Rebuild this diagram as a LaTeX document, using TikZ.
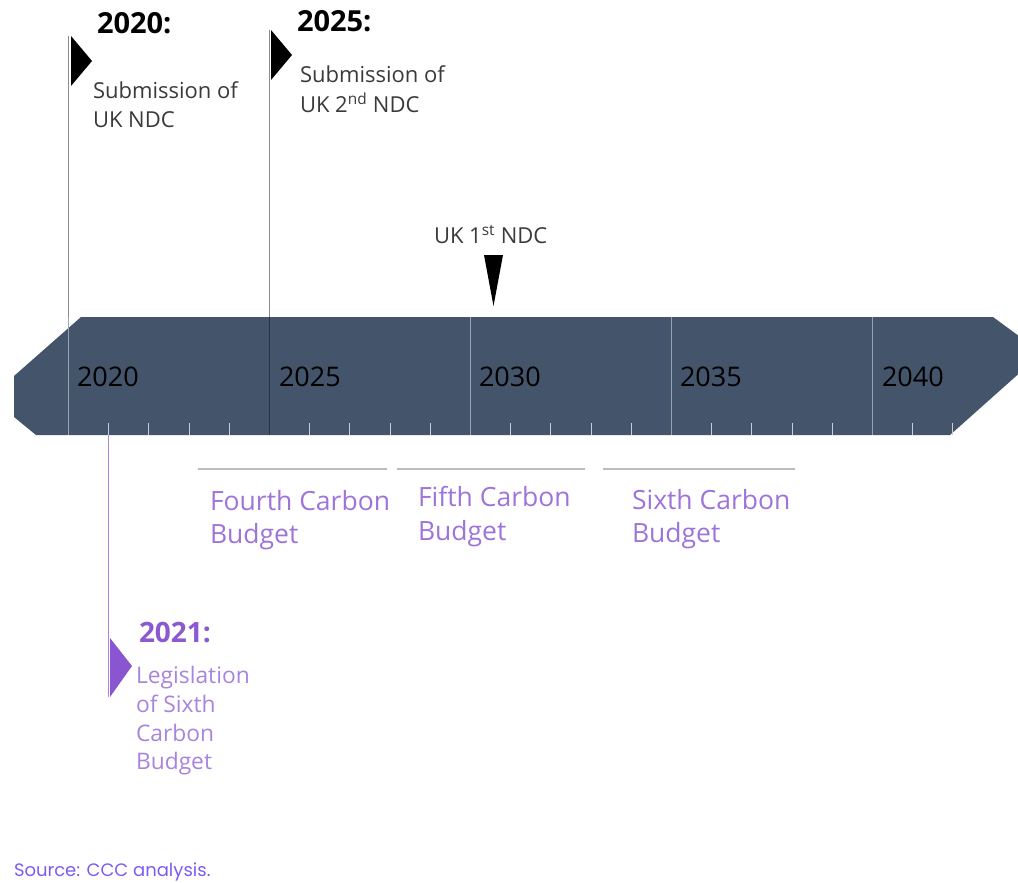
\documentclass[tikz,border=0pt]{standalone}
\usepackage{fontspec}
\setmainfont{Open Sans}
\newfontfamily\srcfont{Poppins}
\definecolor{bandcol}{HTML}{44546A}
\definecolor{txtgray}{HTML}{3A3A3A}
\definecolor{budgetpurple}{HTML}{9E74DA}
\definecolor{legpurple}{HTML}{A884DE}
\definecolor{boldpurple}{HTML}{8C5ACF}
\definecolor{flagpurple}{HTML}{8A55D0}
\definecolor{srcblue}{HTML}{7B5CF2}
\definecolor{linegray}{HTML}{8C8C8C}
\definecolor{budgetgray}{HTML}{BDBDBD}
\definecolor{inband}{HTML}{9AA3B0}
\definecolor{tickcol}{HTML}{C9CED6}
\begin{document}
\begin{tikzpicture}[x=1pt,y=-1pt,
  lbl/.style={anchor=base west,inner sep=0pt,outer sep=0pt},
  yearbold/.style={lbl,font=\fontsize{29}{34}\selectfont\bfseries},
  subtxt/.style={lbl,text=txtgray,font=\fontsize{22}{29}\selectfont},
  bandyear/.style={lbl,text=black,font=\fontsize{27}{32}\selectfont},
  budgettxt/.style={lbl,text=budgetpurple,font=\fontsize{26.5}{33}\selectfont},
  legtxt/.style={lbl,text=legpurple,font=\fontsize{22.8}{29}\selectfont},
  flagline/.style={draw=linegray,line width=1.2pt},
  gridline/.style={draw=inband,line width=1pt},
  ticker/.style={draw=tickcol,line width=0.9pt},
  budgetline/.style={draw=budgetgray,line width=2pt},
  flagtri/.style={fill=black},
]
\useasboundingbox (0,0) rectangle (1018,883);
\clip (0,0) rectangle (1018,883);

% band
\fill[bandcol] (81,317) -- (993,317) -- (1042,353) -- (950,435) -- (36,435) -- (14,417) -- (14,376) -- cycle;

% year coordinates
\foreach \yr/\xx in {2020/68.5,2025/269.5,2030/470.5,2035/671.5,2040/872.5}{
  \coordinate (g\yr top) at (\xx,317);
  \coordinate (g\yr bot) at (\xx,435);
}
% grid lines within band
\draw[gridline] (g2020top) -- (g2020bot);
\draw[draw=bandcol!60!black,line width=1pt] (g2025top) -- (g2025bot);
\draw[gridline] (g2030top) -- (g2030bot);
\draw[gridline] (g2035top) -- (g2035bot);
\draw[gridline] (g2040top) -- (g2040bot);

% ticks
\foreach \k in {1,2,3,4,6,7,8,9,11,12,13,14,16,17,18,19,21,22}{
  \draw[ticker] ({68.5+\k*40.2},423) -- ({68.5+\k*40.2},435);
}

% flag lines above band
\coordinate (f2020top) at (68.5,36);
\coordinate (f2025top) at (269.5,30);
\draw[flagline] (f2020top) -- (g2020top);
\draw[flagline] (f2025top) -- (g2025top);

% flags
\fill[flagtri] (71,36) -- (92,61) -- (71,86) -- cycle;
\fill[flagtri] (271,30) -- (292,55) -- (271,80) -- cycle;

% 2020 label
\node[yearbold] (h2020) at (97,34) {2020:};
\node[subtxt] (s2020a) at (93,99) {Submission of};
\node[subtxt] (s2020b) at (93,128) {UK NDC};

% 2025 label
\node[yearbold] (h2025) at (297,32) {2025:};
\node[subtxt] (s2025a) at (300,83) {Submission of};
\node[subtxt] (s2025b) at (300,112) {UK 2\textsuperscript{nd} NDC};

% UK 1st NDC
\node[subtxt] (ndc1) at (434,243) {UK 1\textsuperscript{st} NDC};
\fill[flagtri] (484,255) -- (503,255) -- (493.5,306) -- cycle;

% band years
\node[bandyear] (y2020) at (77,386) {2020};
\node[bandyear] (y2025) at (279,386) {2025};
\node[bandyear] (y2030) at (479,386) {2030};
\node[bandyear] (y2035) at (680,386) {2035};
\node[bandyear] (y2040) at (882,386) {2040};

% budget lines
\coordinate (b4s) at (198,469); \coordinate (b4e) at (387,469);
\coordinate (b5s) at (397,469); \coordinate (b5e) at (585,469);
\coordinate (b6s) at (603,469); \coordinate (b6e) at (795,469);
\draw[budgetline] (b4s) -- (b4e);
\draw[budgetline] (b5s) -- (b5e);
\draw[budgetline] (b6s) -- (b6e);

% budget texts
\node[budgettxt] (cb4a) at (210,510) {Fourth Carbon};
\node[budgettxt] (cb4b) at (210,543) {Budget};
\node[budgettxt] (cb5a) at (418,506) {Fifth Carbon};
\node[budgettxt] (cb5b) at (418,540) {Budget};
\node[budgettxt] (cb6a) at (632,509) {Sixth Carbon};
\node[budgettxt] (cb6b) at (632,542) {Budget};

% 2021 line and flag
\coordinate (l2021top) at (108.7,423);
\coordinate (l2021mid) at (108.7,435);
\coordinate (l2021bot) at (108.7,697);
\draw[ticker] (l2021top) -- (l2021mid);
\draw[draw=legpurple,line width=1.2pt] (l2021mid) -- (l2021bot);
\fill[flagpurple] (110,638) -- (132,666) -- (110,697) -- cycle;

\node[yearbold,text=boldpurple,font=\fontsize{28}{34}\selectfont\bfseries] (h2021) at (139,642) {2021:};
\node[legtxt] (lg1) at (136,683) {Legislation};
\node[legtxt] (lg2) at (136,712) {of Sixth};
\node[legtxt] (lg3) at (136,741) {Carbon};
\node[legtxt] (lg4) at (136,769) {Budget};

% source
\node[lbl,text=srcblue,font=\srcfont\fontsize{18}{22}\selectfont] (src) at (14,876) {Source: CCC analysis.};
\end{tikzpicture}
\end{document}
